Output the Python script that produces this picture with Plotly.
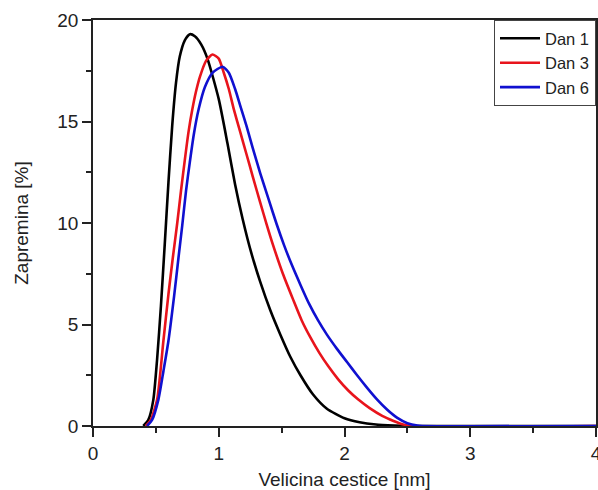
import plotly.graph_objects as go

x_dan1 = [0.40, 0.44, 0.48, 0.51, 0.54, 0.57, 0.60, 0.63, 0.66, 0.69, 0.73, 0.77, 0.81, 0.86, 0.91, 1.00, 1.07, 1.13, 1.19, 1.26, 1.33, 1.41, 1.49, 1.57, 1.65, 1.75, 1.86, 2.00, 2.12, 2.25, 2.40, 2.50, 4.0]
y_dan1 = [0.0, 0.3, 1.3, 3.3, 5.9, 8.9, 12.0, 14.8, 16.9, 18.2, 19.0, 19.3, 19.2, 18.8, 18.1, 16.1, 13.9, 11.9, 10.2, 8.5, 7.1, 5.7, 4.5, 3.4, 2.5, 1.55, 0.85, 0.38, 0.18, 0.07, 0.02, 0.0, 0.0]

x_dan3 = [0.42, 0.46, 0.51, 0.56, 0.60, 0.635, 0.67, 0.70, 0.73, 0.76, 0.79, 0.82, 0.85, 0.90, 0.95, 1.00, 1.04, 1.08, 1.12, 1.17, 1.22, 1.27, 1.33, 1.38, 1.43, 1.51, 1.59, 1.66, 1.73, 1.80, 1.87, 1.95, 2.03, 2.11, 2.20, 2.30, 2.39, 2.46, 2.53, 4.0]
y_dan3 = [0.0, 0.3, 1.3, 4.2, 6.5, 8.3, 10.0, 11.6, 13.1, 14.5, 15.6, 16.5, 17.2, 18.0, 18.3, 18.1, 17.4, 16.6, 15.6, 14.5, 13.4, 12.3, 11.0, 9.95, 8.95, 7.5, 6.25, 5.2, 4.35, 3.6, 2.95, 2.3, 1.75, 1.3, 0.88, 0.5, 0.25, 0.09, 0.0, 0.0]

x_dan6 = [0.43, 0.47, 0.52, 0.56, 0.60, 0.645, 0.68, 0.71, 0.74, 0.77, 0.80, 0.84, 0.89, 0.95, 1.03, 1.08, 1.13, 1.17, 1.22, 1.27, 1.33, 1.40, 1.46, 1.52, 1.58, 1.65, 1.72, 1.79, 1.86, 1.94, 2.02, 2.10, 2.18, 2.26, 2.34, 2.42, 2.50, 2.58, 2.62, 4.0]
y_dan6 = [0.0, 0.3, 1.3, 2.7, 4.2, 6.4, 8.3, 9.9, 11.6, 13.0, 14.3, 15.6, 16.7, 17.4, 17.7, 17.4, 16.6, 15.8, 14.8, 13.7, 12.45, 11.1, 9.95, 8.9, 7.95, 6.95, 6.0, 5.2, 4.5, 3.8, 3.15, 2.5, 1.88, 1.3, 0.8, 0.4, 0.14, 0.02, 0.0, 0.0]

names = ["Dan 1", "Dan 3", "Dan 6"]
colors = ["#000000", "#e8141c", "#1010d0"]

fig = go.Figure()
for xs, ys, nm, c in zip([x_dan1, x_dan3, x_dan6], [y_dan1, y_dan3, y_dan6], names, colors):
    fig.add_trace(go.Scatter(x=xs, y=ys, mode="lines", name=nm,
                             line=dict(color=c, width=2.6, shape="spline", smoothing=0.6)))

font = "Liberation Sans, Arial, sans-serif"
axis_common = dict(showgrid=False, zeroline=False, showline=True, linecolor="#222",
                   linewidth=1.5, mirror=True, ticks="outside", ticklen=9, tickwidth=1.5,
                   tickcolor="#222", tickfont=dict(family=font, size=19, color="#222"),
                   ticklabeloverflow="allow", automargin=False)

fig.update_xaxes(range=[0, 4], dtick=1, tick0=0,
                 minor=dict(dtick=0.5, ticks="outside", ticklen=5, tickwidth=1.5, tickcolor="#222"),
                 title=dict(text="Velicina cestice [nm]", font=dict(family=font, size=19, color="#222"), standoff=16),
                 **axis_common)
fig.update_yaxes(range=[0, 20], dtick=5, tick0=0,
                 minor=dict(dtick=2.5, ticks="outside", ticklen=5, tickwidth=1.5, tickcolor="#222"),
                 title=dict(text="Zapremina [%]", font=dict(family=font, size=19, color="#222"), standoff=24),
                 **axis_common)

fig.update_layout(
    width=598, height=490,
    margin=dict(l=93, r=2, t=20, b=64, autoexpand=False),
    plot_bgcolor="white", paper_bgcolor="white",
    font=dict(family=font, size=19, color="#222"),
    legend=dict(x=1, y=1, xanchor="right", yanchor="top",
                bgcolor="white", bordercolor="#444", borderwidth=1,
                font=dict(family=font, size=16.5, color="#222"),
                itemwidth=40, tracegroupgap=0),
    showlegend=True,
)

fig.write_html("out.html")
